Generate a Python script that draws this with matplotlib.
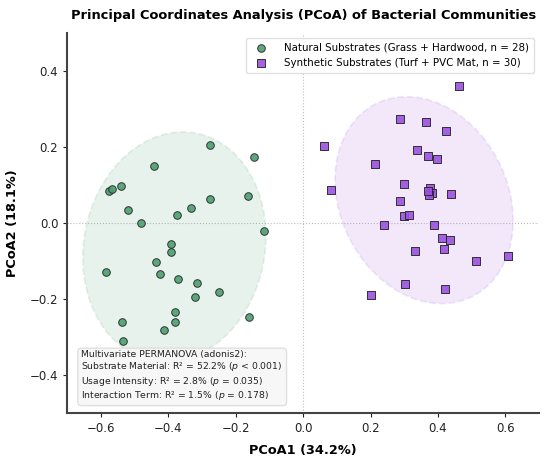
import numpy as np
import matplotlib
matplotlib.use("Agg")
import matplotlib.pyplot as plt
from matplotlib.patches import Ellipse
import matplotlib.transforms as transforms

# ---- data ----
natural_x = [-0.276, -0.146, -0.442, -0.575, -0.566, -0.542, -0.276, -0.163, -0.519, -0.332,
             -0.374, -0.480, -0.116, -0.393, -0.393, -0.438, -0.584, -0.426, -0.372, -0.314,
             -0.249, -0.320, -0.161, -0.379, -0.538, -0.381, -0.414, -0.535]
natural_y = [0.204, 0.172, 0.149, 0.085, 0.088, 0.097, 0.062, 0.072, 0.033, 0.039,
             0.022, 0.001, -0.021, -0.054, -0.077, -0.103, -0.129, -0.135, -0.146, -0.157,
             -0.182, -0.195, -0.246, -0.234, -0.259, -0.260, -0.282, -0.309]
synthetic_x = [0.462, 0.288, 0.364, 0.425, 0.062, 0.337, 0.370, 0.397, 0.214, 0.300,
               0.083, 0.376, 0.383, 0.374, 0.371, 0.438, 0.286, 0.299, 0.315, 0.239,
               0.388, 0.413, 0.437, 0.419, 0.333, 0.608, 0.513, 0.302, 0.422, 0.201]
synthetic_y = [0.359, 0.273, 0.266, 0.241, 0.202, 0.193, 0.176, 0.169, 0.154, 0.103,
               0.087, 0.092, 0.079, 0.073, 0.083, 0.076, 0.058, 0.018, 0.020, -0.005,
               -0.006, -0.039, -0.046, -0.068, -0.074, -0.086, -0.100, -0.159, -0.174, -0.190]

# group region ellipse for the synthetic group (center, width, height, angle in data units)
synthetic_region = dict(center=(0.359, 0.060), width=0.587, height=0.48, angle=131)

label_natural = "Natural Substrates (Grass + Hardwood, n = 28)"
label_synthetic = "Synthetic Substrates (Turf + PVC Mat, n = 30)"
title = "Principal Coordinates Analysis (PCoA) of Bacterial Communities"
xlabel = "PCoA1 (34.2%)"
ylabel = "PCoA2 (18.1%)"
stats_lines = [
    "Multivariate PERMANOVA (adonis2):",
    "Substrate Material: R\u00b2 = 52.2% ($p$ < 0.001)",
    "Usage Intensity: R\u00b2 = 2.8% ($p$ = 0.035)",
    "Interaction Term: R\u00b2 = 1.5% ($p$ = 0.178)",
]

green = "#4C9F70"
purple = "#9B51E0"


def confidence_ellipse(x, y, ax, n_std=2.0, **kwargs):
    x = np.asarray(x); y = np.asarray(y)
    cov = np.cov(x, y)
    pearson = cov[0, 1] / np.sqrt(cov[0, 0] * cov[1, 1])
    rx = np.sqrt(1 + pearson)
    ry = np.sqrt(1 - pearson)
    ell = Ellipse((0, 0), width=rx * 2, height=ry * 2, **kwargs)
    sx = np.sqrt(cov[0, 0]) * n_std
    sy = np.sqrt(cov[1, 1]) * n_std
    tr = transforms.Affine2D().rotate_deg(45).scale(sx, sy).translate(x.mean(), y.mean())
    ell.set_transform(tr + ax.transData)
    return ax.add_patch(ell)


fig = plt.figure(figsize=(5.5, 4.66), dpi=100)
ax = fig.add_axes([0.1224, 0.113, 0.8576, 0.817])

confidence_ellipse(natural_x, natural_y, ax, n_std=2.0, facecolor=green, edgecolor=green,
                   alpha=0.13, linestyle="--", linewidth=1.3, zorder=1)
ax.add_patch(Ellipse(synthetic_region["center"], synthetic_region["width"],
                     synthetic_region["height"], angle=synthetic_region["angle"],
                     facecolor=purple, edgecolor=purple, alpha=0.13, linestyle="--",
                     linewidth=1.3, zorder=1))

ax.axhline(0, color="gray", linestyle=":", linewidth=0.8, alpha=0.5, zorder=0)
ax.axvline(0, color="gray", linestyle=":", linewidth=0.8, alpha=0.5, zorder=0)

ax.scatter(natural_x, natural_y, s=30, marker="o", color=green, edgecolor="#222222",
           linewidth=0.7, alpha=0.9, label=label_natural, zorder=3)
ax.scatter(synthetic_x, synthetic_y, s=30, marker="s", color=purple, edgecolor="#222222",
           linewidth=0.7, alpha=0.9, label=label_synthetic, zorder=3)

ax.set_xlim(-0.7, 0.7)
ax.set_ylim(-0.5, 0.5)
ax.set_xticks([-0.6, -0.4, -0.2, 0.0, 0.2, 0.4, 0.6])
ax.set_yticks([-0.4, -0.2, 0.0, 0.2, 0.4])

for s in ["top", "right"]:
    ax.spines[s].set_visible(False)
for s in ["left", "bottom"]:
    ax.spines[s].set_color("#444444")
    ax.spines[s].set_linewidth(1.5)
ax.tick_params(axis="both", labelsize=8.5, colors="#222222", length=3, width=0.8)

ax.set_xlabel(xlabel, fontsize=9.3, fontweight="bold", labelpad=6)
ax.set_ylabel(ylabel, fontsize=9.3, fontweight="bold", labelpad=8)
ax.set_title(title, fontsize=9.4, fontweight="bold", pad=10)

leg = ax.legend(loc="upper right", fontsize=7.4, frameon=True, framealpha=0.9,
                edgecolor="#dddddd", borderpad=0.5, handletextpad=1.2)

ax.text(0.03, 0.03, "\n".join(stats_lines), transform=ax.transAxes, fontsize=6.7,
        va="bottom", ha="left", color="#222222", linespacing=1.15,
        bbox=dict(boxstyle="round,pad=0.4", facecolor="#f7f7f7", edgecolor="#dddddd", alpha=0.9),
        zorder=4)

fig.savefig("out.png", dpi=100)
